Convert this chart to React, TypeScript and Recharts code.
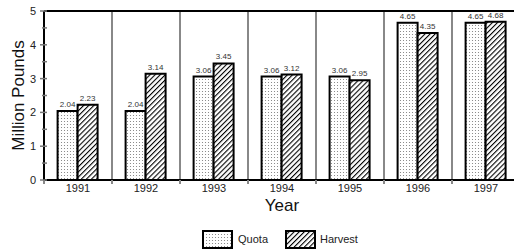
import { Bar, BarChart, CartesianGrid, LabelList, Legend, ReferenceLine, XAxis, YAxis } from "recharts";

const years = ["1991", "1992", "1993", "1994", "1995", "1996", "1997"];
const quota = [2.04, 2.04, 3.06, 3.06, 3.06, 4.65, 4.65];
const harvest = [2.23, 3.14, 3.45, 3.12, 2.95, 4.35, 4.68];
const yTicks = [0, 0.5, 1, 1.5, 2, 2.5, 3, 3.5, 4, 4.5, 5];

const data = years.map((year, i) => ({ year, quota: quota[i], harvest: harvest[i] }));

const font = "'Liberation Sans', Arial, sans-serif";

function YTick({ x, y, payload }: any) {
  const major = Number.isInteger(payload.value);
  return (
    <g>
      <line x1={major ? x - 4 : x - 2} x2={x + 3} y1={y} y2={y} stroke="#777" strokeWidth={1.5} />
      {major && (
        <text x={x - 8} y={y} dy={4} textAnchor="end" fontSize={11} fill="#222" fontFamily={font}>
          {payload.value}
        </text>
      )}
    </g>
  );
}

function XTick({ x, y, payload }: any) {
  const half = payload.offset || 0;
  return (
    <g>
      <line x1={x - half} x2={x - half} y1={y} y2={y + 4} stroke="#888" strokeWidth={2} />
      <text x={x} y={y + 12} textAnchor="middle" fontSize={11} fill="#222" fontFamily={font}>
        {payload.value}
      </text>
    </g>
  );
}

function LegendBox() {
  return (
    <div
      style={{
        height: 21,
        paddingLeft: 40,
        boxSizing: "border-box",
        display: "flex",
        justifyContent: "center",
        alignItems: "flex-start",
        fontFamily: font,
        fontSize: 11,
        color: "#222",
      }}
    >
      <svg width={31} height={19}>
        <rect x={1} y={1} width={29} height={17} fill="url(#dots)" stroke="#000" strokeWidth={2} />
      </svg>
      <span style={{ marginLeft: 5, marginRight: 17, lineHeight: "19px" }}>Quota</span>
      <svg width={31} height={19}>
        <rect x={1} y={1} width={29} height={17} fill="url(#hatch)" stroke="#000" strokeWidth={2} />
      </svg>
      <span style={{ marginLeft: 4, lineHeight: "19px" }}>Harvest</span>
    </div>
  );
}

export default function App() {
  return (
    <div style={{ position: "absolute", left: 0, top: 0, width: 514, height: 251, overflow: "hidden", background: "#fff" }}>
      <BarChart
        width={522}
        height={251}
        data={data}
        margin={{ top: 11, right: 2, left: 0, bottom: 0 }}
        barCategoryGap="20%"
        barGap={0}
      >
        <defs>
          <pattern id="dots" width={3} height={3} patternUnits="userSpaceOnUse">
            <rect width={3} height={3} fill="#fff" />
            <circle cx={1.5} cy={1.5} r={0.55} fill="#777" />
          </pattern>
          <pattern id="hatch" width={3.6} height={3.6} patternUnits="userSpaceOnUse" patternTransform="rotate(45)">
            <rect width={3.6} height={3.6} fill="#fff" />
            <line x1={0} y1={0} x2={0} y2={3.6} stroke="#000" strokeWidth={2.2} />
          </pattern>
        </defs>
        <CartesianGrid
          horizontal={false}
          stroke="#888"
          strokeWidth={2}
          verticalCoordinatesGenerator={({ offset }: any) =>
            years.slice(1).map((_, i) => offset.left + ((i + 1) * offset.width) / years.length)
          }
        />
        <XAxis
          dataKey="year"
          height={50}
          stroke="#000"
          strokeWidth={2}
          tickLine={false}
          tickSize={0}
          tickMargin={0}
          interval={0}
          tick={<XTick />}
          label={{
            content: ({ viewBox }: any) => (
              <text x={viewBox.x + viewBox.width / 2} y={viewBox.y + 31} textAnchor="middle" fontSize={17} fill="#111" fontFamily={font}>
                Year
              </text>
            ),
          }}
        />
        <YAxis
          width={44}
          domain={[0, 5]}
          ticks={yTicks}
          interval={0}
          stroke="#000"
          strokeWidth={2}
          tickLine={false}
          tickSize={0}
          tickMargin={0}
          tick={<YTick />}
          label={{
            content: ({ viewBox }: any) => (
              <text
                x={18}
                y={viewBox.y + viewBox.height / 2}
                transform={`rotate(-90 18 ${viewBox.y + viewBox.height / 2})`}
                textAnchor="middle"
                dominantBaseline="central"
                fontSize={17}
                fill="#111"
                fontFamily={font}
              >
                Million Pounds
              </text>
            ),
          }}
        />
        <ReferenceLine y={5} stroke="#000" strokeWidth={2} />
        <Bar dataKey="quota" fill="url(#dots)" stroke="#000" strokeWidth={2} isAnimationActive={false}>
          <LabelList dataKey="quota" position="top" offset={4} fontSize={8} fill="#333" fontFamily={font} formatter={(v: any) => Number(v).toFixed(2)} />
        </Bar>
        <Bar dataKey="harvest" fill="url(#hatch)" stroke="#000" strokeWidth={2} isAnimationActive={false}>
          <LabelList dataKey="harvest" position="top" offset={4} fontSize={8} fill="#333" fontFamily={font} formatter={(v: any) => Number(v).toFixed(2)} />
        </Bar>
        <Legend verticalAlign="bottom" height={21} content={() => <LegendBox />} />
      </BarChart>
    </div>
  );
}
